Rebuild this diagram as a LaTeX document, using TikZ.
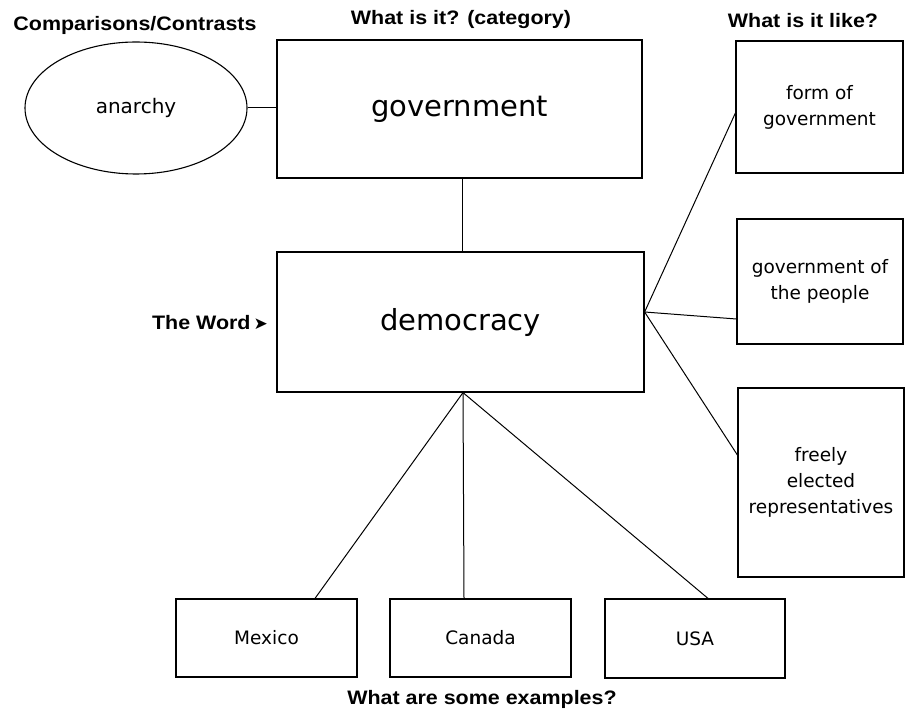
\documentclass[tikz,border=0pt]{standalone}
\usepackage{fontspec}
\setmainfont{DejaVu Sans}
\newfontfamily\headfont[FakeStretch=1.1]{Liberation Sans}
\usetikzlibrary{shapes.geometric}
\begin{document}
\begin{tikzpicture}[x=1pt,y=-1pt,
  box/.style={draw=black, line width=1.2pt, rectangle, inner sep=0pt, align=center},
  oval/.style={draw=black, line width=1.1pt, ellipse, inner sep=0pt},
  link/.style={draw=black, line width=1pt},
  heading/.style={font=\headfont\bfseries\fontsize{19.5}{22}\selectfont, inner sep=0pt},
  bigword/.style={font=\fontsize{29}{34}\selectfont},
  smallword/.style={font=\fontsize{18.5}{26}\selectfont}]
\useasboundingbox[fill=white] (0,0) rectangle (910,711);

% column headings
\node[heading, anchor=base] (hcmp)  at (135,31)  {Comparisons/Contrasts};
\node[heading, anchor=base] (hcat)  at (461,25)  {What is it? (category)};
\node[heading, anchor=base] (hlike) at (803,28)  {What is it like?};
\node[heading, anchor=base east] (hword) at (268,329)
  {The Word\hspace{3pt}{\normalfont\fontsize{17}{17}\selectfont ➤}};
\node[heading, anchor=base] (hex) at (482,704) {What are some examples?};

% central word and its category
\node[box, bigword, minimum width=365pt, minimum height=138pt] (gov) at (459.5,109) {government};
\node[box, bigword, minimum width=367pt, minimum height=140pt] (dem) at (460.5,322) {democracy};

% contrast
\node[oval, font=\fontsize{20}{24}\selectfont, minimum width=222pt, minimum height=132pt] (anar) at (136,108) {anarchy};

% properties
\node[box, smallword, minimum width=167pt, minimum height=132pt] (b1) at (819.5,107) {form of\\government};
\node[box, smallword, minimum width=166pt, minimum height=125pt] (b2) at (820,281.5) {government of\\the people};
\node[box, smallword, minimum width=166pt, minimum height=189pt] (b3) at (821,482.5) {freely\\elected\\representatives};

% examples
\node[box, smallword, minimum width=181pt, minimum height=78pt] (mex) at (266.5,638) {Mexico};
\node[box, smallword, minimum width=181pt, minimum height=78pt] (can) at (480.5,638) {Canada};
\node[box, smallword, minimum width=180pt, minimum height=79pt] (usa) at (695,638.5) {USA};

% connectors
\draw[link] (anar.east) -- (gov.west |- anar.east);
\draw[link] ([xshift=2.5]gov.south) -- ([xshift=1.5]dem.north);

\coordinate (hubR) at ([yshift=10]dem.east);
\draw[link] (hubR) -- ([yshift=-6]b1.west);
\draw[link] (hubR) -- ([yshift=-37.5]b2.west);
\draw[link] (hubR) -- ([yshift=27.5]b3.west);

\coordinate (hubB) at ([xshift=2.5]dem.south);
\draw[link] (hubB) -- ([xshift=48.5]mex.north);
\draw[link] (hubB) -- ([xshift=-16.5]can.north);
\draw[link] (hubB) -- ([xshift=13]usa.north);
\end{tikzpicture}
\end{document}
